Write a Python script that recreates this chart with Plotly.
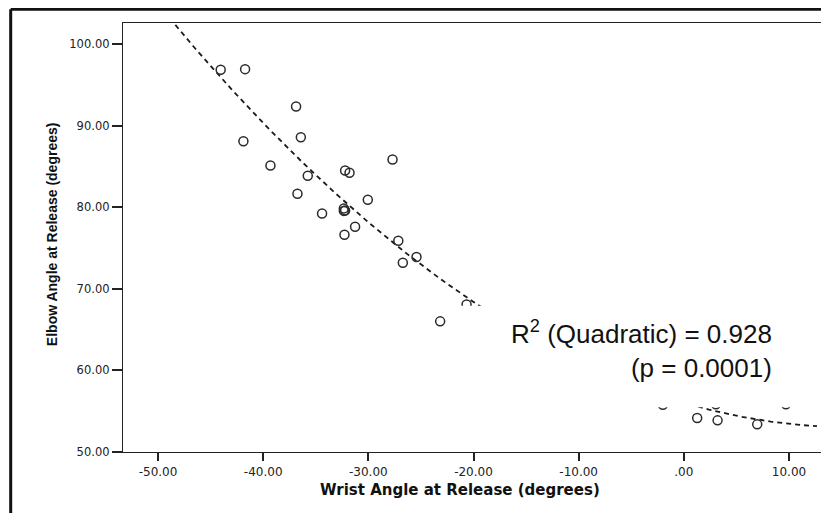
import numpy as np
import plotly.graph_objects as go

# ---- data ----
wrist_angle = [-44.04, -41.72, -36.87, -41.88, -36.42, -39.31, -35.76, -32.21, -31.79,
               -27.70, -36.74, -30.05, -34.40, -32.33, -32.21, -32.33, -31.26, -32.27,
               -27.15, -25.42, -26.72, -20.66, -23.17, -1.99, 1.27, 3.21, 3.05, 6.98, 9.71]
elbow_angle = [96.86, 96.94, 92.36, 88.11, 88.60, 85.13, 83.87, 84.52, 84.24,
               85.87, 81.67, 80.93, 79.25, 79.87, 79.62, 79.56, 77.62, 76.64,
               75.91, 73.90, 73.21, 68.10, 66.02, 55.78, 54.17, 53.88, 55.85, 53.39, 55.85]

x_tick_values = [-50, -40, -30, -20, -10, 0, 10]
x_tick_labels = ["-50.00", "-40.00", "-30.00", "-20.00", "-10.00", ".00", "10.00"]
y_tick_values = [50, 60, 70, 80, 90, 100]
y_tick_labels = ["50.00", "60.00", "70.00", "80.00", "90.00", "100.00"]

fit_label = "R<sup>2</sup> (Quadratic) = 0.928<br>(p = 0.0001)"
x_title = "Wrist Angle at Release (degrees)"
y_title = "Elbow Angle at Release (degrees)"

# quadratic fit of the scatter
coef = np.polyfit(wrist_angle, elbow_angle, 2)
fit_x = np.linspace(-50, 12.66, 300)
fit_y = np.polyval(coef, fit_x)

fig = go.Figure()
fig.add_trace(go.Scatter(
    x=fit_x, y=fit_y, mode="lines",
    line=dict(color="#1a1a1a", width=1.8, dash="5px,4px"),
    hoverinfo="skip", showlegend=False))
fig.add_trace(go.Scatter(
    x=wrist_angle, y=elbow_angle, mode="markers",
    marker=dict(symbol="circle-open", size=9, color="#2a2a2a", line=dict(width=1.5, color="#2a2a2a")),
    showlegend=False))

# white label box hiding part of the plot
fig.add_shape(type="rect", xref="x", yref="y", x0=-22.06, x1=11.52, y0=55.48, y1=67.92,
              fillcolor="white", line=dict(width=0), layer="above")
fig.add_annotation(x=8.57, y=62.6, xref="x", yref="y", text=fit_label, showarrow=False,
                   xanchor="right", yanchor="middle", align="right",
                   font=dict(family="Liberation Sans, Arial", size=26, color="#111111"))

# axis titles
fig.add_annotation(x=0.4807, y=-0.0882, xref="paper", yref="paper", text="<b>" + x_title + "</b>",
                   showarrow=False, xanchor="center", yanchor="middle",
                   font=dict(family="DejaVu Sans", size=15, color="#111111"))
fig.add_annotation(x=-0.1013, y=0.5078, xref="paper", yref="paper", text="<b>" + y_title + "</b>",
                   showarrow=False, xanchor="center", yanchor="middle", textangle=-90,
                   font=dict(family="Liberation Sans, Arial", size=14, color="#111111"))

# outer frame (left and top)
fig.add_shape(type="line", xref="paper", yref="paper", x0=-0.1602, x1=-0.1602, y0=-0.2, y1=1.0322,
              line=dict(color="#111111", width=3), layer="above")
fig.add_shape(type="line", xref="paper", yref="paper", x0=-0.1602, x1=1.05, y0=1.0322, y1=1.0322,
              line=dict(color="#111111", width=3), layer="above")

fig.update_layout(
    width=821, height=505,
    margin=dict(l=115, r=5, t=15, b=61),
    paper_bgcolor="white", plot_bgcolor="white",
    font=dict(family="DejaVu Sans", size=12, color="#222222"),
    showlegend=False,
)
fig.update_xaxes(range=[-53.33, 13.33], tickvals=x_tick_values, ticktext=x_tick_labels,
                 ticks="outside", ticklen=8, tickwidth=1.5, tickcolor="#222222",
                 showline=True, linecolor="#222222", linewidth=1.3, mirror=True,
                 showgrid=False, zeroline=False, tickfont=dict(size=12))
fig.update_yaxes(range=[50, 102.6], tickvals=y_tick_values, ticktext=y_tick_labels,
                 ticks="outside", ticklen=10, tickwidth=1.5, tickcolor="#222222",
                 showline=True, linecolor="#222222", linewidth=1.3, mirror=True,
                 showgrid=False, zeroline=False, tickfont=dict(size=11.5))

fig.write_html("out.html")
